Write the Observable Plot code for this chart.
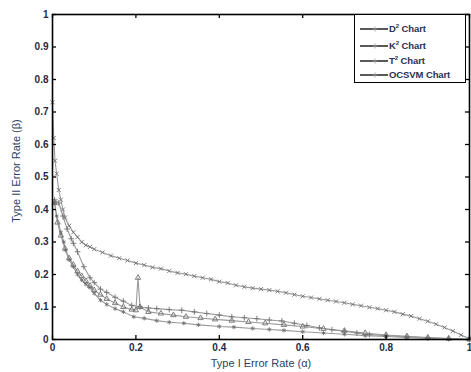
<!DOCTYPE html>
<html><head><meta charset="utf-8">
<script src="https://cdn.jsdelivr.net/npm/d3@7"></script>
<script src="https://cdn.jsdelivr.net/npm/@observablehq/plot@0.6"></script>
<style>
body{margin:0;background:#fff;font-family:"Liberation Sans",Arial,sans-serif}
#wrap{position:relative;width:471px;height:372px}
#legend{position:absolute;left:354px;top:14px;width:112px;height:69px;border:1.3px solid #000;background:#fff;box-sizing:border-box}
.row{position:absolute;left:0;height:12px;font-size:9.5px;font-weight:bold;color:#2a3350;white-space:nowrap;letter-spacing:-0.1px}
.row svg{position:absolute;left:4px;top:0}
.row span{position:absolute;left:34px;top:0px}
sup{font-size:6px;vertical-align:4px}
</style></head><body><div id="wrap"></div>
<script>
const xTicks = [0, 0.2, 0.4, 0.6, 0.8, 1];
const yTicks = [0, 0.1, 0.2, 0.3, 0.4, 0.5, 0.6, 0.7, 0.8, 0.9, 1];
const seriesNames = ["D2", "K2", "T2", "OCSVM"];
const seriesSymbols = ["asterisk", "plus", "triangle", "times"];

const d2X = [0.005,0.01,0.02,0.027,0.031,0.04,0.05,0.06,0.07,0.08,0.09,0.1,0.115,0.13,0.15,0.17,0.195,0.22,0.25,0.28,0.315,0.35,0.4,0.435,0.48,0.52,0.555,0.6,0.65,0.7,0.75,0.8,0.85,0.9,0.95,1];
const d2Y = [0.42,0.38,0.33,0.30,0.275,0.245,0.224,0.20,0.183,0.17,0.16,0.142,0.121,0.108,0.095,0.085,0.07,0.065,0.058,0.053,0.05,0.045,0.04,0.038,0.034,0.031,0.028,0.024,0.02,0.016,0.012,0.009,0.006,0.004,0.002,0];

const k2X = [0.005,0.015,0.025,0.035,0.045,0.05,0.06,0.075,0.09,0.1,0.115,0.13,0.15,0.17,0.19,0.21,0.23,0.25,0.28,0.31,0.34,0.37,0.4,0.43,0.46,0.49,0.52,0.55,0.58,0.61,0.64,0.67,0.7,0.73,0.76,0.8,0.85,0.9,0.95,1];
const k2Y = [0.43,0.42,0.38,0.34,0.31,0.296,0.27,0.224,0.19,0.175,0.155,0.145,0.13,0.118,0.105,0.10,0.097,0.095,0.092,0.09,0.085,0.08,0.075,0.07,0.067,0.064,0.06,0.057,0.05,0.043,0.036,0.03,0.025,0.02,0.015,0.012,0.008,0.005,0.003,0];

const t2X = [0.005,0.012,0.02,0.03,0.04,0.05,0.06,0.07,0.08,0.09,0.1,0.115,0.13,0.15,0.17,0.19,0.2,0.205,0.21,0.23,0.26,0.29,0.32,0.355,0.39,0.43,0.47,0.51,0.555,0.6,0.65,0.7,0.75,0.8,0.85,0.9,0.95,1];
const t2Y = [0.42,0.36,0.32,0.28,0.25,0.23,0.21,0.195,0.18,0.165,0.152,0.138,0.125,0.112,0.10,0.092,0.09,0.19,0.10,0.085,0.08,0.075,0.07,0.066,0.062,0.058,0.054,0.05,0.045,0.04,0.033,0.027,0.02,0.014,0.01,0.006,0.003,0];

const ocX = [0,0.003,0.006,0.01,0.015,0.02,0.025,0.03,0.04,0.05,0.06,0.07,0.08,0.09,0.1,0.12,0.14,0.16,0.18,0.2,0.22,0.24,0.26,0.28,0.3,0.32,0.34,0.36,0.38,0.4,0.42,0.44,0.46,0.48,0.5,0.52,0.54,0.56,0.58,0.6,0.62,0.64,0.66,0.68,0.7,0.72,0.74,0.76,0.78,0.8,0.82,0.84,0.86,0.88,0.9,0.92,0.94,0.96,0.98,1];
const ocY = [0.73,0.62,0.55,0.51,0.46,0.43,0.40,0.375,0.35,0.33,0.315,0.30,0.29,0.285,0.278,0.268,0.258,0.25,0.243,0.235,0.229,0.222,0.218,0.211,0.205,0.201,0.195,0.19,0.185,0.178,0.174,0.167,0.162,0.158,0.155,0.152,0.148,0.144,0.138,0.133,0.129,0.125,0.121,0.117,0.113,0.108,0.104,0.099,0.095,0.09,0.085,0.078,0.072,0.064,0.056,0.047,0.037,0.026,0.014,0.002];

const seriesX = [d2X, k2X, t2X, ocX];
const seriesY = [d2Y, k2Y, t2Y, ocY];
const data = [];
seriesNames.forEach((s, i) => seriesX[i].forEach((x, j) => data.push({series: s, x, y: seriesY[i][j], sym: seriesSymbols[i]})));

const W = 471, H = 372, mL = 52, mR = 2, mT = 14, mB = 33;
const innerW = W - mL - mR, innerH = H - mT - mB, tk = 4;
const font = '"Liberation Sans", Arial, sans-serif';
const chart = Plot.plot({
  width: W, height: H,
  marginLeft: mL, marginRight: mR, marginTop: mT, marginBottom: mB,
  style: {fontFamily: font, background: "#fff"},
  x: {domain: [0, 1]},
  y: {domain: [0, 1]},
  marks: [
    Plot.line(data, {x: "x", y: "y", z: "series", stroke: "#9a9a9a", strokeWidth: 1.1}),
    Plot.dot(data, {x: "x", y: "y", symbol: "sym", r: 2, stroke: "#707070", strokeWidth: 0.9}),
    Plot.axisX({ticks: xTicks, tickSize: 0, tickPadding: 4, tickFormat: d => String(d), fontSize: 10, fontWeight: "bold", fill: "#1e2a48", label: null}),
    Plot.axisY({ticks: yTicks, tickSize: 0, tickPadding: 4, tickFormat: d => String(d), fontSize: 10, fontWeight: "bold", fill: "#1e2a48", label: null}),
    // inward ticks on all four sides
    Plot.tickX(xTicks, {x: d => d, insetTop: innerH - tk, stroke: "#000", strokeWidth: 1.3}),
    Plot.tickX(xTicks, {x: d => d, insetBottom: innerH - tk, stroke: "#000", strokeWidth: 1.3}),
    Plot.tickY(yTicks, {y: d => d, insetRight: innerW - tk, stroke: "#000", strokeWidth: 1.3}),
    Plot.tickY(yTicks, {y: d => d, insetLeft: innerW - tk, stroke: "#000", strokeWidth: 1.3}),
    Plot.frame({stroke: "#000", strokeWidth: 1.6})
  ]
});
const wrap = document.getElementById("wrap");
wrap.appendChild(chart);

const svg = d3.select(chart);
svg.append("text").attr("x", 261).attr("y", 367).attr("text-anchor", "middle")
  .attr("font-size", 11).attr("fill", "#2e3f63").attr("font-family", font).text("Type I Error Rate (α)");
svg.append("text").attr("transform", "translate(20,171) rotate(-90)").attr("text-anchor", "middle")
  .attr("font-size", 11).attr("fill", "#2e3f63").attr("font-family", font).text("Type II Error Rate (β)");

// legend
const labels = [["D", "2", " Chart"], ["K", "2", " Chart"], ["T", "2", " Chart"], ["OCSVM", "", " Chart"]];
const rowCenters = [15, 32, 47, 61];
const leg = document.createElement("div");
leg.id = "legend";
labels.forEach((l, i) => {
  const r = document.createElement("div");
  r.className = "row";
  r.style.top = (rowCenters[i] - 7) + "px";
  r.innerHTML = `<svg width="30" height="12"><line x1="1" y1="6" x2="29" y2="6" stroke="#222" stroke-width="1.5"/><path d="M16 3.5V8.5M13.5 6H18.5" stroke="#999" stroke-width="0.8"/></svg><span>${l[0]}${l[1] ? "<sup>" + l[1] + "</sup>" : ""}${l[2]}</span>`;
  leg.appendChild(r);
});
wrap.appendChild(leg);
</script></body></html>
